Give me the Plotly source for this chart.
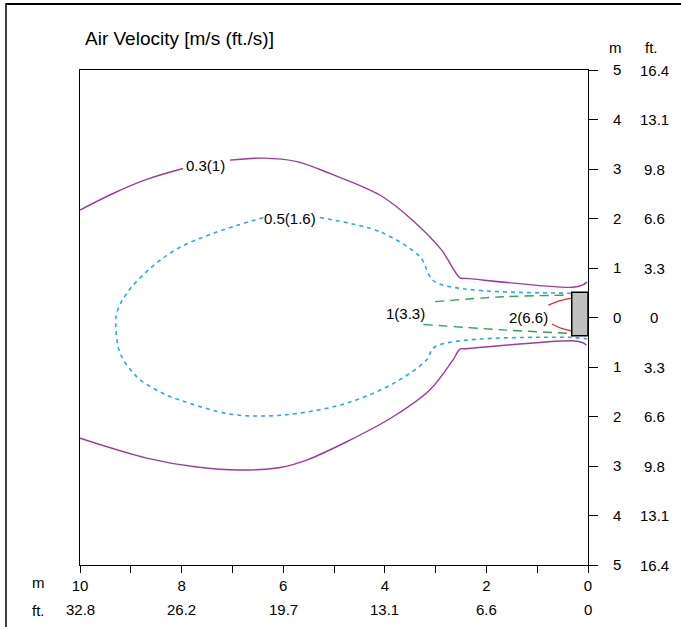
import plotly.graph_objects as go

# ---------------- data (metres) ----------------
# 0.3 m/s (1 ft/s) contour - purple solid
c03_top_a_x = [10.0, 9.34, 8.69, 7.97]
c03_top_a_y = [2.17, 2.51, 2.79, 3.01]
c03_top_b_x = [7.05, 6.39, 5.73, 5.08, 4.09, 3.46, 2.88, 2.52, 2.40, 0.30, 0.10, 0.02]
c03_top_b_y = [3.18, 3.22, 3.15, 2.91, 2.47, 1.97, 1.36, 0.80, 0.79, 0.61, 0.66, 0.72]
c03_bot_x = [10.0, 8.69, 7.70, 6.85, 6.06, 5.54, 4.75, 3.83, 3.11, 2.66, 2.52, 2.40, 0.30, 0.10, 0.03]
c03_bot_y = [-2.44, -2.84, -3.02, -3.08, -3.03, -2.88, -2.51, -2.00, -1.46, -0.86, -0.64, -0.63, -0.47, -0.51, -0.56]

# 0.5 m/s (1.6 ft/s) contour - blue dashed
c05_a_x = [6.39, 7.38, 8.10, 8.62, 9.08, 9.28, 9.29, 9.21, 8.88, 8.43, 8.03, 7.05, 6.39, 5.73, 4.75, 3.83, 3.18, 3.01, 0.42, 0.02]
c05_a_y = [2.02, 1.70, 1.38, 0.99, 0.49, 0.08, -0.25, -0.72, -1.20, -1.50, -1.67, -1.95, -1.99, -1.94, -1.73, -1.33, -0.86, -0.59, -0.40, -0.43]
c05_b_x = [5.28, 4.09, 3.31, 3.01, 0.42, 0.31]
c05_b_y = [2.02, 1.73, 1.23, 0.72, 0.49, 0.49]

# 1 m/s (3.3 ft/s) contour - green dashed
c1_top_x = [3.01, 1.67, 0.35]
c1_top_y = [0.32, 0.42, 0.45]
c1_bot_x = [3.24, 1.67, 0.35]
c1_bot_y = [-0.14, -0.25, -0.32]

# 2 m/s (6.6 ft/s) contour - red solid
c2_top_x = [0.78, 0.55, 0.32]
c2_top_y = [0.25, 0.34, 0.39]
c2_bot_x = [0.71, 0.52, 0.32]
c2_bot_y = [-0.13, -0.22, -0.27]

# unit (grey box)
unit_x = [0.0, 0.32]
unit_y = [-0.37, 0.51]

# contour labels
label_text = ["0.3(1)", "0.5(1.6)", "1(3.3)", "2(6.6)"]
label_x = [7.52, 5.87, 3.60, 1.18]
label_y = [3.08, 2.01, 0.09, 0.01]

# ticks
x_tick_m = [10, 8, 6, 4, 2, 0]
x_tick_ft = ["32.8", "26.2", "19.7", "13.1", "6.6", "0"]
y_tick_m = [5, 4, 3, 2, 1, 0, -1, -2, -3, -4, -5]
y_tick_ft = ["16.4", "13.1", "9.8", "6.6", "3.3", "0", "3.3", "6.6", "9.8", "13.1", "16.4"]

TITLE = "Air Velocity [m/s (ft./s)]"

NARROW = "Liberation Sans, Arial, sans-serif"
REG = "Liberation Sans, Arial, sans-serif"

PURPLE = "#9A3C9A"
BLUE = "#29ABE2"
GREEN = "#2AA55A"
RED = "#E2283A"

fig = go.Figure()

def add_line(x, y, color, dash="solid", width=1.4, smoothing=1.0):
    fig.add_trace(go.Scatter(x=x, y=y, mode="lines",
                             line=dict(color=color, width=width, dash=dash,
                                       shape="spline", smoothing=smoothing),
                             hoverinfo="skip", showlegend=False))

add_line(c03_top_a_x, c03_top_a_y, PURPLE)
add_line(c03_top_b_x, c03_top_b_y, PURPLE, smoothing=0.9)
add_line(c03_bot_x, c03_bot_y, PURPLE, smoothing=0.9)
add_line(c05_a_x, c05_a_y, BLUE, dash="4px,4px", width=1.6, smoothing=1.0)
add_line(c05_b_x, c05_b_y, BLUE, dash="4px,4px", width=1.6, smoothing=0.9)
add_line(c1_top_x, c1_top_y, GREEN, dash="9px,6px", width=1.4)
add_line(c1_bot_x, c1_bot_y, GREEN, dash="9px,6px", width=1.4)
add_line(c2_top_x, c2_top_y, RED, width=1.2)
add_line(c2_bot_x, c2_bot_y, RED, width=1.2)

# grey unit box
fig.add_shape(type="rect", xref="x", yref="y",
              x0=unit_x[0], x1=unit_x[1], y0=unit_y[0], y1=unit_y[1],
              fillcolor="#C0C0C0", line=dict(color="black", width=1.5))

# contour labels
for t, lx, ly in zip(label_text, label_x, label_y):
    fig.add_annotation(x=lx, y=ly, xref="x", yref="y", text=t, showarrow=False,
                       font=dict(family=NARROW, size=15, color="black"),
                       xanchor="center", yanchor="middle")

# ft column on the right
for v, t in zip(y_tick_m, y_tick_ft):
    fig.add_annotation(x=1.13, y=v, xref="paper", yref="y", text=t, showarrow=False,
                       font=dict(family=NARROW, size=15, color="black"),
                       xanchor="center", yanchor="middle")
# ft row at bottom
for v, t in zip(x_tick_m, x_tick_ft):
    fig.add_annotation(x=v, y=-0.0909, xref="x", yref="paper", text=t, showarrow=False,
                       font=dict(family=NARROW, size=15, color="black"),
                       xanchor="center", yanchor="middle")

# unit headers
for txt, px, py in [("m", 615, 48), ("ft.", 651, 48), ("m", 38, 582), ("ft.", 38, 610)]:
    fig.add_annotation(x=(px - 80) / 508, y=(565 - py) / 495, xref="paper", yref="paper",
                       text=txt, showarrow=False,
                       font=dict(family=NARROW, size=15, color="black"),
                       xanchor="center", yanchor="middle")

# title
fig.add_annotation(x=(83 - 80) / 508, y=(565 - 38) / 495, xref="paper", yref="paper",
                   text=TITLE, showarrow=False, xanchor="left", yanchor="middle",
                   font=dict(family=REG, size=19, color="black"))

# outer frame lines (top and left)
fig.add_shape(type="line", xref="paper", yref="paper",
              x0=(6 - 80) / 508, x1=(690 - 80) / 508, y0=(565 - 4) / 495, y1=(565 - 4) / 495,
              line=dict(color="black", width=2))
fig.add_shape(type="line", xref="paper", yref="paper",
              x0=(6 - 80) / 508, x1=(6 - 80) / 508, y0=(565 - 3) / 495, y1=(565 - 640) / 495,
              line=dict(color="black", width=1.5))

fig.update_layout(
    width=681, height=627,
    margin=dict(l=80, r=93, t=70, b=62, pad=0),
    plot_bgcolor="white", paper_bgcolor="white",
    showlegend=False,
    xaxis=dict(range=[10, 0], tickvals=x_tick_m, ticktext=[str(v) for v in x_tick_m],
               ticks="outside", ticklen=7, tickwidth=1, tickcolor="black",
               minor=dict(dtick=1, ticks="outside", ticklen=7, tickcolor="black", tickwidth=1),
               showline=True, linecolor="black", linewidth=1, mirror=True,
               showgrid=False, zeroline=False,
               tickfont=dict(family=NARROW, size=15, color="black")),
    yaxis=dict(range=[-5, 5], side="right", tickvals=y_tick_m,
               ticktext=[str(abs(v)) for v in y_tick_m],
               ticks="outside", ticklen=9, tickwidth=1, tickcolor="black",
               ticklabelstandoff=12,
               showline=True, linecolor="black", linewidth=1, mirror=True,
               showgrid=False, zeroline=False,
               tickfont=dict(family=NARROW, size=15, color="black")),
)

fig.write_html("out.html", config={"displayModeBar": False},
               post_script="document.body.style.margin='0';document.body.style.overflow='hidden';")
